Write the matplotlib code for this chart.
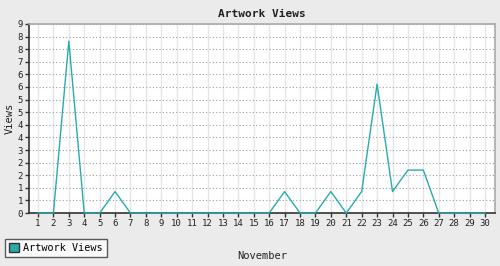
import numpy as np
import matplotlib.pyplot as plt
from matplotlib.patches import Patch

days = list(range(1, 31))
views = [0, 0, 8, 0, 0, 1, 0, 0, 0, 0,
         0, 0, 0, 0, 0, 0, 1, 0, 0, 1,
         0, 1, 6, 1, 2, 2, 0, 0, 0, 0]
y_max = 8.8
y_ticks = np.linspace(0, y_max, 16)
y_labels = ['0', '1', '1', '2', '2', '3', '4', '4', '5', '5', '6', '6', '7', '8', '8', '9']

teal = '#2aabab'
bg = '#ebebeb'

plt.rcParams['font.family'] = 'DejaVu Sans Mono'

fig = plt.figure(figsize=(5, 2.66), dpi=100, facecolor=bg)
ax = fig.add_axes([0.058, 0.199, 0.932, 0.711])
ax.set_facecolor('white')

ax.plot(days, views, color=teal, lw=1.0, zorder=3, clip_on=False)

ax.set_xlim(0.416, 30.65)
ax.set_ylim(0, y_max)
ax.set_xticks(days)
ax.set_xticklabels([str(d) for d in days], fontsize=6.5)
ax.set_yticks(y_ticks)
ax.set_yticklabels(y_labels, fontsize=6.5)

ax.grid(axis='x', color='#e6e6e6', lw=1, ls='-')
ax.grid(axis='y', color='#a0a0a0', lw=0.8, ls=(0, (1, 2)))
ax.set_axisbelow(True)

for s in ['left', 'bottom']:
    ax.spines[s].set_color('#333333')
    ax.spines[s].set_linewidth(1.2)
for s in ['top', 'right']:
    ax.spines[s].set_color('#aaaaaa')
    ax.spines[s].set_linewidth(1.2)
ax.tick_params(axis='both', length=3, width=1, color='#333333', pad=1.5, labelcolor='#222222')

ax.set_title('Artwork Views', fontsize=8, fontweight='bold', color='#222222', pad=5)
ax.set_ylabel('Views', fontsize=7.5, color='#222222', labelpad=2)
ax.set_xlabel('November', fontsize=7.5, color='#222222', labelpad=16)

handle = Patch(facecolor=teal, edgecolor='#333333', label='Artwork Views')
fig.legend(handles=[handle], loc='lower left', bbox_to_anchor=(0.01, 0.034),
           borderaxespad=0, fontsize=7.3, frameon=True, fancybox=False,
           edgecolor='#333333', facecolor='white', handlelength=1.0,
           handleheight=1.0, borderpad=0.4, handletextpad=0.4)

fig.savefig('out.png', dpi=100, facecolor=bg)
